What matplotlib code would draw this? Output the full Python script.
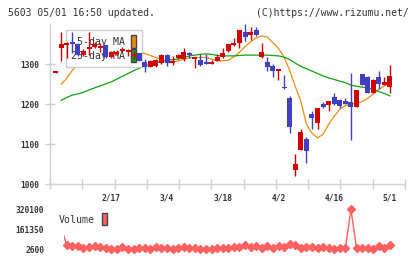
import matplotlib
matplotlib.use('Agg')
import matplotlib.pyplot as plt
import numpy as np
from matplotlib.patches import Patch

# ---------------- data ----------------
date_labels = ['2/17', '3/4', '3/18', '4/2', '4/16', '5/1']
date_label_idx = [10, 20, 30, 40, 50, 60]

opens = [1279, 1340, 1348, 1356, 1350, 1322, 1338, 1344, 1341, 1347,
         1317, 1326, 1333, 1331, 1320, 1327, 1305, 1294, 1296, 1302,
         1323, 1303, 1315, 1313, 1327, 1314, 1311, 1304, 1301, 1309,
         1317, 1332, 1348, 1354, 1380, 1372, 1386, 1317, 1305, 1296,
         1284, 1244, 1215, 1037, 1086, 1113, 1177, 1154, 1201, 1198,
         1219, 1211, 1208, 1205, 1194, 1276, 1267, 1229, 1267, 1248,
         1244]
highs = [1281, 1381, 1356, 1380, 1352, 1338, 1381, 1355, 1352, 1349,
         1332, 1336, 1342, 1338, 1332, 1329, 1313, 1311, 1313, 1325,
         1325, 1320, 1325, 1341, 1331, 1318, 1325, 1326, 1310, 1325,
         1340, 1351, 1365, 1386, 1400, 1392, 1394, 1352, 1319, 1301,
         1289, 1272, 1221, 1076, 1137, 1119, 1183, 1190, 1206, 1209,
         1227, 1212, 1215, 1278, 1236, 1276, 1270, 1262, 1284, 1269,
         1298]
lows = [1279, 1309, 1316, 1327, 1320, 1320, 1323, 1340, 1330, 1316,
        1316, 1322, 1330, 1320, 1312, 1308, 1280, 1292, 1294, 1300,
        1296, 1298, 1312, 1308, 1315, 1290, 1296, 1300, 1300, 1307,
        1315, 1330, 1345, 1340, 1357, 1361, 1370, 1316, 1282, 1269,
        1261, 1237, 1129, 1021, 1086, 1054, 1137, 1138, 1191, 1184,
        1198, 1190, 1201, 1111, 1194, 1248, 1228, 1228, 1238, 1247,
        1228]
closes = [1281, 1352, 1351, 1351, 1323, 1333, 1342, 1350, 1347, 1317,
          1330, 1330, 1338, 1335, 1325, 1309, 1292, 1308, 1311, 1323,
          1302, 1307, 1323, 1330, 1324, 1317, 1298, 1301, 1304, 1319,
          1329, 1351, 1352, 1386, 1368, 1380, 1372, 1330, 1294, 1284,
          1288, 1240, 1144, 1051, 1131, 1084, 1167, 1190, 1193, 1208,
          1200, 1197, 1202, 1194, 1236, 1248, 1229, 1261, 1251, 1256,
          1271]

nan = np.nan
ma5 = [nan, 1250, 1265, 1285, 1300, 1318, 1330, 1336, 1342, 1340,
       1335, 1334, 1331, 1330, 1330, 1329, 1327, 1322, 1317, 1312,
       1308, 1307, 1308, 1313, 1316, 1317, 1317, 1317, 1313, 1309,
       1309, 1310, 1319, 1330, 1344, 1356, 1366, 1371, 1368, 1354,
       1340, 1318, 1285, 1245, 1208, 1150, 1128, 1116, 1125, 1150,
       1170, 1188, 1197, 1201, 1202, 1207, 1215, 1226, 1237, 1246,
       1255]
ma25 = [nan, 1210, 1217, 1223, 1226, 1230, 1236, 1241, 1246, 1251,
        1256, 1263, 1270, 1277, 1284, 1290, 1296, 1300, 1304, 1307,
        1310, 1312, 1313, 1317, 1321, 1323, 1325, 1326, 1325, 1322,
        1321, 1321, 1321, 1322, 1323, 1323, 1323, 1323, 1323, 1322,
        1321, 1318, 1312, 1303, 1295, 1289, 1283, 1277, 1271, 1266,
        1262, 1258, 1254, 1248, 1245, 1243, 1241, 1237, 1232, 1227,
        1221]

# volume for days 1..60
volume = [174000, 36700, 28800, 28800, 10500, 18500, 28800, 18500, 10500, 2600,
          2600, 18500, 5000, 5000, 10500, 10500, 5000, 18500, 10500, 10500,
          2600, 10500, 18500, 10500, 10500, 5000, 5000, 2600, 10500, 10500,
          13000, 23200, 18500, 36700, 18500, 31400, 10500, 26300, 10500, 26300,
          23200, 44000, 36700, 10500, 18500, 18500, 10500, 18500, 10500, 2600,
          10500, 10500, 320100, 10500, 10500, 10500, 2600, 26300, 10500, 36700]
vol_ticks = [2600, 161350, 320100]

# ---------------- style ----------------
RED = '#d40000'
BLUE = '#4040c0'
ORANGE = '#f08c10'
GREEN = '#10a010'
VOLC = '#ff6060'
SPINE = '#d0d0d0'
TXT = '#333333'
MONO = 'DejaVu Sans Mono'

W, H = 420, 259
fig = plt.figure(figsize=(W / 100, H / 100), dpi=100)


def px_axes(l, t, r, b):
    return fig.add_axes([l / W, 1 - b / H, (r - l) / W, (b - t) / H])


ax = px_axes(50, 24.3, 405, 184.3)
o = np.array(opens, float)
c = np.array(closes, float)
hi = np.array(highs, float)
lo = np.array(lows, float)
x = np.arange(len(o))
cols = np.where(c >= o, RED, BLUE)

ax.plot(x, ma5, color=ORANGE, lw=0.9, zorder=2)
ax.plot(x, ma25, color=GREEN, lw=0.9, zorder=2)
ax.vlines(x, lo, hi, colors=cols, lw=1.0, zorder=4)
ax.bar(x, np.maximum(np.abs(c - o), 4), bottom=np.minimum(o, c), width=0.9,
       color=cols, linewidth=0, zorder=4.5)

ax.set_xlim(-1.0, 62.7)
ax.set_ylim(1000, 1400)
for s in ['top', 'right']:
    ax.spines[s].set_visible(False)
for s in ['left', 'bottom']:
    ax.spines[s].set_color(SPINE)
    ax.spines[s].set_linewidth(1.0)

ax.set_yticks([1000, 1100, 1200, 1300])
ax.set_xticks(date_label_idx)
ax.set_xticklabels(date_labels)
ax.set_xticks(np.linspace(-1.0, 62.7, 12), minor=True)
ax.tick_params(axis='y', direction='inout', length=6.5, width=1.0, color=SPINE,
               labelsize=5.7, labelcolor=TXT, pad=4.5)
ax.tick_params(axis='x', which='major', length=0, labelsize=5.7, labelcolor=TXT, pad=6.5)
ax.tick_params(axis='x', which='minor', direction='inout', length=6.5, width=1.0, color=SPINE)
for lab in ax.get_xticklabels() + ax.get_yticklabels():
    lab.set_fontfamily(MONO)
    lab.set_fontweight('bold')

handles = [Patch(facecolor=ORANGE, edgecolor='#444444', lw=1.0),
           Patch(facecolor=GREEN, edgecolor='#444444', lw=1.0)]
leg = ax.legend(handles, ['5-day MA', '25-day MA'], loc='upper left',
                bbox_to_anchor=(65.7 / W, 1 - 30 / H), bbox_transform=fig.transFigure,
                borderaxespad=0, markerfirst=False, handlelength=0.6, handleheight=1.6,
                handletextpad=0.55, labelspacing=0.1, borderpad=0.55, fancybox=False,
                framealpha=1, edgecolor='#cccccc',
                prop=dict(family=MONO, size=7.1))
leg.get_frame().set_linewidth(1.0)
for t in leg.get_texts():
    t.set_color(TXT)
leg.set_zorder(3.5)

# ---------------- volume ----------------
axv = px_axes(64.3, 209.3, 405, 249.3)
vx = np.arange(1, 1 + len(volume))
axv.set_xlim(1.56, 62.7)
axv.set_ylim(vol_ticks[0], vol_ticks[-1])
axv.plot(vx, volume, color=VOLC, lw=1.0, zorder=2)
axv.plot(vx[1:], volume[1:], 'D', ms=3.8, color=VOLC, lw=0, clip_on=False, zorder=3)
for s in axv.spines.values():
    s.set_visible(False)
axv.set_xticks([])
axv.set_yticks(vol_ticks)
axv.set_yticklabels([str(v) for v in vol_ticks])
axv.tick_params(axis='y', length=0, labelsize=5.7, labelcolor=TXT, pad=14.5)
for lab in axv.get_yticklabels():
    lab.set_fontfamily(MONO)
    lab.set_fontweight('bold')
axv.patch.set_alpha(0)

vleg = axv.legend([Patch(facecolor=VOLC, edgecolor='#444444', lw=1.0)], ['Volume'],
                  loc='upper left', bbox_to_anchor=(59 / W, 1 - 213.3 / H),
                  bbox_transform=fig.transFigure, borderaxespad=0, borderpad=0,
                  markerfirst=False, handlelength=0.56, handleheight=1.5,
                  handletextpad=0.7, frameon=False, prop=dict(family=MONO, size=7.1))
for t in vleg.get_texts():
    t.set_color(TXT)

# ---------------- header texts ----------------
fig.text(8 / W, 1 - 12.7 / H, '5603 05/01 16:50 updated.', family=MONO, size=7.0,
         color=TXT, ha='left', va='center')
fig.text(409 / W, 1 - 12.7 / H, '(C)https://www.rizumu.net/', family=MONO, size=7.0,
         color=TXT, ha='right', va='center')

fig.savefig('out.png', dpi=100)
